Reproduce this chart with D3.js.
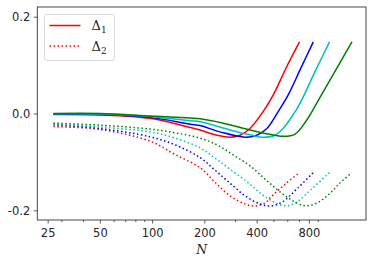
<!DOCTYPE html>
<html>
<head>
<meta charset="utf-8">
<script src="https://cdn.jsdelivr.net/npm/d3@7"></script>
<style>
  body { margin: 0; background: #fff; }
  svg { display: block; }
  .tick text { font-family: "DejaVu Sans", sans-serif; font-size: 11.5px; fill: #262626; }
</style>
</head>
<body>
<div id="wrapper"></div>
<script>
// N values (each series has its own sample points) and read-off values
var nRed   = [27, 50, 97, 166, 189, 230, 281, 321, 366, 436, 498, 591, 706]
var d1Red  = [-0.002, -0.003, -0.010, -0.029, -0.034, -0.044, -0.049, -0.045, -0.031, 0.004, 0.038, 0.094, 0.148]
var nRed2  = [27, 50, 97, 136, 189, 230, 281, 343, 392, 448, 479, 584, 706]
var d2Red  = [-0.027, -0.033, -0.057, -0.085, -0.112, -0.142, -0.170, -0.187, -0.191, -0.185, -0.174, -0.146, -0.122]

var nBlue  = [27, 50, 97, 166, 189, 246, 343, 400, 458, 532, 607, 711, 848]
var d1Blue = [-0.001, -0.002, -0.008, -0.022, -0.025, -0.038, -0.049, -0.045, -0.031, 0.004, 0.038, 0.090, 0.148]
var nBlue2 = [27, 50, 97, 136, 189, 230, 281, 343, 419, 479, 560, 690, 848]
var d2Blue = [-0.023, -0.031, -0.048, -0.065, -0.091, -0.117, -0.144, -0.170, -0.187, -0.191, -0.183, -0.154, -0.122]

var nCyan  = [27, 50, 97, 166, 189, 281, 366, 436, 510, 568, 648, 711, 866, 1051]
var d1Cyan = [-0.0005, -0.001, -0.006, -0.015, -0.017, -0.034, -0.044, -0.049, -0.045, -0.031, -0.003, 0.021, 0.086, 0.148]
var nCyan2 = [27, 50, 97, 136, 189, 230, 281, 366, 448, 584, 685, 818, 1051]
var d2Cyan = [-0.022, -0.028, -0.038, -0.051, -0.071, -0.092, -0.115, -0.146, -0.172, -0.191, -0.182, -0.158, -0.122]

var nGreen  = [27, 50, 97, 166, 189, 257, 366, 476, 568, 664, 773, 903, 1058, 1416]
var d1Green = [0.000, 0.000, -0.005, -0.0095, -0.011, -0.020, -0.034, -0.043, -0.047, -0.043, -0.015, 0.026, 0.069, 0.148]
var nGreen2 = [27, 50, 97, 136, 189, 240, 297, 366, 459, 584, 742, 878, 1058, 1203, 1416]
var d2Green = [-0.020, -0.024, -0.032, -0.040, -0.051, -0.066, -0.087, -0.108, -0.139, -0.170, -0.190, -0.186, -0.165, -0.144, -0.122]

var xMajor = [25, 50, 100, 200, 400, 800]
var xMinor = [30, 40, 60, 70, 80, 90, 300, 500, 600, 700, 900]
var yTicks = [-0.2, 0.0, 0.2]

var series = [
  { n: nRed,   v: d1Red,   color: "#ff0000", dotted: false },
  { n: nBlue,  v: d1Blue,  color: "#0000ff", dotted: false },
  { n: nCyan,  v: d1Cyan,  color: "#00bfbf", dotted: false },
  { n: nGreen, v: d1Green, color: "#008000", dotted: false },
  { n: nRed2,   v: d2Red,   color: "#ff0000", dotted: true },
  { n: nBlue2,  v: d2Blue,  color: "#0000ff", dotted: true },
  { n: nCyan2,  v: d2Cyan,  color: "#00bfbf", dotted: true },
  { n: nGreen2, v: d2Green, color: "#008000", dotted: true }
]

// frame of the axes in the 374x265 picture
var frame = { left: 37.3, right: 366, top: 7, bottom: 220 }

var svg = d3.select("#wrapper")
  .append("svg")
  .attr("width", 374)
  .attr("height", 265)

var x = d3.scaleLog()
  .domain([21.8, 1706])
  .range([frame.left, frame.right])

var y = d3.scaleLinear()
  .domain([-0.22, 0.22])
  .range([frame.bottom, frame.top])

// curves
var line = d3.line()
  .x(d => x(d[0]))
  .y(d => y(d[1]))
  .curve(d3.curveCatmullRom.alpha(0.5))

svg.append("g")
  .selectAll("path")
  .data(series)
  .enter()
  .append("path")
  .attr("d", d => line(d.n.map((n, i) => [n, d.v[i]])))
  .attr("fill", "none")
  .attr("stroke", d => d.color)
  .attr("stroke-width", 1.5)
  .attr("stroke-dasharray", d => d.dotted ? "1.5,2.5" : null)

// axes
svg.append("g")
  .attr("transform", "translate(0," + frame.bottom + ")")
  .call(d3.axisBottom(x).tickValues(xMajor).tickFormat(d3.format("d")).tickSize(3.5).tickPadding(5))
svg.append("g")
  .attr("transform", "translate(0," + frame.bottom + ")")
  .call(d3.axisBottom(x).tickValues(xMinor).tickFormat("").tickSize(2))

svg.append("g")
  .attr("transform", "translate(" + frame.left + ",0)")
  .call(d3.axisLeft(y).tickValues(yTicks).tickFormat(d => d.toFixed(1)).tickSize(3.5).tickPadding(3.5))

svg.selectAll(".domain").remove()
svg.selectAll(".tick line").attr("stroke", "#333").attr("stroke-width", 0.8)

svg.append("rect")
  .attr("x", frame.left)
  .attr("y", frame.top)
  .attr("width", frame.right - frame.left)
  .attr("height", frame.bottom - frame.top)
  .attr("fill", "none")
  .attr("stroke", "#333")
  .attr("stroke-width", 0.9)

svg.append("text")
  .attr("x", (frame.left + frame.right) / 2)
  .attr("y", 254)
  .attr("text-anchor", "middle")
  .style("font-family", "'DejaVu Serif', serif")
  .style("font-style", "italic")
  .style("font-size", "12.5px")
  .attr("fill", "#262626")
  .text("N")

// legend
svg.append("rect")
  .attr("x", 44.5)
  .attr("y", 14.5)
  .attr("width", 70)
  .attr("height", 46)
  .attr("rx", 2.5)
  .attr("fill", "white")
  .attr("fill-opacity", 0.8)
  .attr("stroke", "#d0d0d0")
  .attr("stroke-width", 0.8)

var legendItems = [
  { label: "Δ", sub: "1", dotted: false },
  { label: "Δ", sub: "2", dotted: true }
]

var item = svg.append("g")
  .selectAll("g")
  .data(legendItems)
  .enter()
  .append("g")
  .attr("transform", (d, i) => "translate(0," + (25.5 + i * 20.5) + ")")

item.append("line")
  .attr("x1", 49.5)
  .attr("x2", 80.5)
  .attr("stroke", "#ff0000")
  .attr("stroke-width", 1.5)
  .attr("stroke-dasharray", d => d.dotted ? "1.5,2.5" : null)

var lt = item.append("text")
  .attr("x", 91.5)
  .attr("y", 4.5)
  .style("font-family", "'DejaVu Serif', serif")
  .style("font-size", "13px")
  .attr("fill", "#262626")
lt.append("tspan").text(d => d.label)
lt.append("tspan").attr("dy", 3).style("font-size", "9px").text(d => d.sub)
</script>
</body>
</html>
